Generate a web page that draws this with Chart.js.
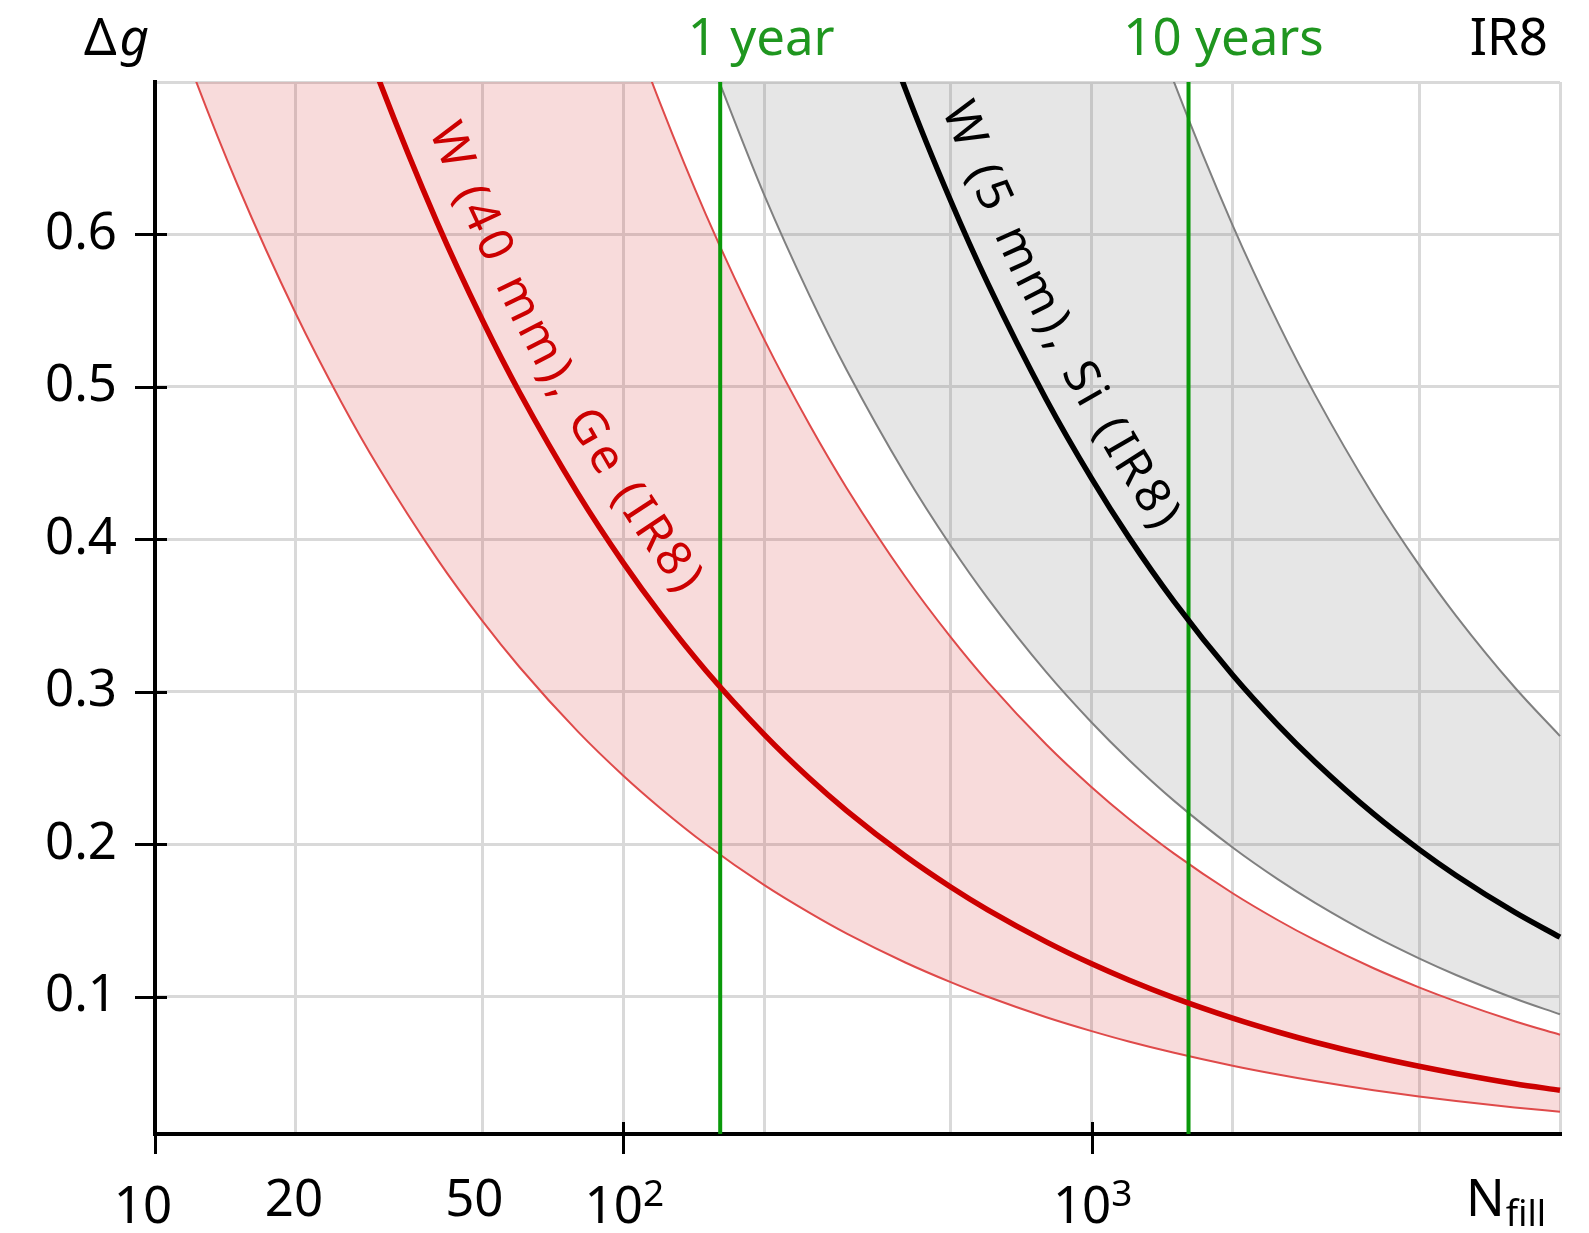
<!DOCTYPE html>
<html><head><meta charset="utf-8">
<script src="https://cdn.jsdelivr.net/npm/chart.js@4.4.1/dist/chart.umd.min.js"></script>
<style>html,body{margin:0;padding:0;background:#fff;} canvas{display:block;}</style>
</head><body>
<canvas id="c" width="1589" height="1233"></canvas>
<script>
// ---- data ----
const nRed = [10, 12, 15, 20, 25, 30, 40, 50, 60, 80, 100, 120, 150, 200, 250, 300, 400, 500, 600, 800, 1000, 1200, 1500, 2000, 2500, 3000, 4000, 5000, 6000, 8000, 10000];
const redCenter = [1.2162, 1.1102, 0.9930, 0.8600, 0.7692, 0.7022, 0.6081, 0.5439, 0.4965, 0.4300, 0.3846, 0.3511, 0.3140, 0.2720, 0.2432, 0.2220, 0.1923, 0.1720, 0.1570, 0.1360, 0.1216, 0.1110, 0.0993, 0.0860, 0.0769, 0.0702, 0.0608, 0.0544, 0.0497, 0.0430, 0.0387];
const redLower = [0.7748, 0.7073, 0.6326, 0.5478, 0.4900, 0.4473, 0.3874, 0.3465, 0.3163, 0.2739, 0.2450, 0.2237, 0.2000, 0.1732, 0.1550, 0.1414, 0.1225, 0.1096, 0.1000, 0.0866, 0.0775, 0.0707, 0.0633, 0.0548, 0.0490, 0.0447, 0.0387, 0.0346, 0.0316, 0.0274, 0.0246];
const redUpper = [2.3749, 2.1680, 1.9391, 1.6793, 1.5020, 1.3711, 1.1874, 1.0621, 0.9695, 0.8396, 0.7510, 0.6856, 0.6132, 0.5310, 0.4750, 0.4336, 0.3755, 0.3359, 0.3066, 0.2655, 0.2375, 0.2168, 0.1939, 0.1679, 0.1502, 0.1371, 0.1187, 0.1062, 0.0970, 0.0840, 0.0751];
const nGray = [150, 200, 250, 300, 400, 500, 600, 800, 1000, 1200, 1500, 2000, 2500, 3000, 4000, 5000, 6000, 8000, 10000];
const grayLower = [0.7226, 0.6258, 0.5597, 0.5109, 0.4425, 0.3958, 0.3613, 0.3129, 0.2799, 0.2555, 0.2285, 0.1979, 0.1770, 0.1616, 0.1399, 0.1252, 0.1143, 0.0989, 0.0885];
const grayUpper = [2.2128, 1.9163, 1.7140, 1.5646, 1.3550, 1.2119, 1.1064, 0.9581, 0.8570, 0.7823, 0.6997, 0.6060, 0.5420, 0.4948, 0.4285, 0.3833, 0.3499, 0.3030, 0.2710];
const nBlack = [300, 400, 500, 600, 800, 1000, 1200, 1500, 2000, 2500, 3000, 4000, 5000, 6000, 8000, 10000];
const blackCenter = [0.8031, 0.6955, 0.6221, 0.5679, 0.4918, 0.4399, 0.4015, 0.3592, 0.3110, 0.2782, 0.2540, 0.2199, 0.1967, 0.1796, 0.1555, 0.1391];
const markerN = [161, 1610];
const markerLabels = ['1 year', '10 years'];
const curveLabels = ['W (40 mm), Ge (IR8)', 'W (5 mm), Si (IR8)'];
const curveLabelStartN = [34, 425];
const yTicks = [0.1, 0.2, 0.3, 0.4, 0.5, 0.6];
const yRange = [0.01, 0.7];
const xRange = [10, 10000];
const xGridTicks = [10, 20, 50, 100, 200, 500, 1000, 2000, 5000, 10000];
const xMajorTicks = [10, 100, 1000];
const xTickLabels = ['10', '20', '50', '10^2', '10^3'];
const xTickLabelValues = [10, 20, 50, 100, 1000];
const yTitle = ['Δ', 'g'];
const xTitle = ['N', 'fill'];
const cornerLabel = 'IR8';

const FONT = '"Noto Sans", "Open Sans", sans-serif';
const CLIP = {left: 0, top: 0, right: 6, bottom: 0};

function series(label, xs, ys, color, width, extra) {
  return Object.assign({
    label: label,
    data: xs.map((n, i) => ({x: n, y: ys[i]})),
    borderColor: color, borderWidth: width,
    pointRadius: 0, pointHoverRadius: 0,
    fill: false, cubicInterpolationMode: 'monotone', clip: CLIP
  }, extra || {});
}

const datasets = [
  series(curveLabels[0], nRed, redCenter, '#cc0000', 5.5),
  series(curveLabels[1], nBlack, blackCenter, '#000000', 5.5),
  series(markerLabels[0], [markerN[0], markerN[0]], yRange, '#0a990a', 4, {cubicInterpolationMode: 'default', tension: 0}),
  series(markerLabels[1], [markerN[1], markerN[1]], yRange, '#0a990a', 4, {cubicInterpolationMode: 'default', tension: 0}),
  series('Ge band lower', nRed, redLower, '#df4a4a', 2, {fill: 5, backgroundColor: 'rgba(214,39,40,0.17)'}),
  series('Ge band upper', nRed, redUpper, '#df4a4a', 2),
  series('Si band lower', nGray, grayLower, '#808080', 2, {fill: 7, backgroundColor: 'rgba(128,128,128,0.2)'}),
  series('Si band upper', nGray, grayUpper, '#808080', 2)
];

function drawOnCurve(ctx, pts, text, startX, offset, spacing) {
  const cum = [0];
  for (let i = 1; i < pts.length; i++) cum.push(cum[i - 1] + Math.hypot(pts[i].x - pts[i - 1].x, pts[i].y - pts[i - 1].y));
  const at = (s) => {
    let i = 1;
    while (i < pts.length - 1 && cum[i] < s) i++;
    const t = (s - cum[i - 1]) / (cum[i] - cum[i - 1]);
    const p0 = pts[i - 1], p1 = pts[i];
    return {x: p0.x + (p1.x - p0.x) * t, y: p0.y + (p1.y - p0.y) * t};
  };
  const sAtX = (px) => {
    for (let i = 1; i < pts.length; i++) {
      if (pts[i].x >= px) {
        const t = (px - pts[i - 1].x) / (pts[i].x - pts[i - 1].x);
        return cum[i - 1] + t * (cum[i] - cum[i - 1]);
      }
    }
    return cum[cum.length - 1];
  };
  let s = sAtX(startX);
  for (const ch of text) {
    const w = ctx.measureText(ch).width;
    const m = s + w / 2;
    const q = at(m), qa = at(m - 12), qb = at(m + 12);
    const a = Math.atan2(qb.y - qa.y, qb.x - qa.x);
    ctx.save();
    ctx.translate(q.x, q.y);
    ctx.rotate(a);
    ctx.fillText(ch, -w / 2, -offset);
    ctx.restore();
    s += w + spacing;
  }
}

const decor = {
  id: 'decor',
  afterDraw(chart) {
    const {ctx, chartArea} = chart;
    const x = chart.scales.x, y = chart.scales.y;
    ctx.save();
    // tick marks (in-out)
    ctx.strokeStyle = '#000';
    ctx.lineWidth = 3;
    yTicks.forEach(v => {
      const py = Math.round(y.getPixelForValue(v)) + 0.5;
      ctx.beginPath(); ctx.moveTo(chartArea.left - 20, py); ctx.lineTo(chartArea.left + 12, py); ctx.stroke();
    });
    xMajorTicks.forEach(v => {
      const px = Math.round(x.getPixelForValue(v)) + 0.5;
      ctx.beginPath(); ctx.moveTo(px, chartArea.bottom - 12); ctx.lineTo(px, chartArea.bottom + 20); ctx.stroke();
    });

    // x tick labels
    ctx.fillStyle = '#000';
    ctx.textBaseline = 'alphabetic';
    const shifts = {10: -12, 20: -2, 50: -8, 100: 1, 1000: 1};
    xTickLabels.forEach((lab, i) => {
      const v = xTickLabelValues[i];
      const parts = lab.split('^');
      const base = parts[0], sup = parts[1];
      ctx.font = '51px ' + FONT;
      const wb = ctx.measureText(base).width;
      ctx.font = '37px ' + FONT;
      const ws = sup ? ctx.measureText(sup).width : 0;
      const cx = x.getPixelForValue(v) + shifts[v];
      const left = cx - (wb + ws) / 2;
      const baseY = sup || v === 10 ? 1223 : 1216;
      ctx.font = '51px ' + FONT;
      ctx.textAlign = 'left';
      ctx.fillText(base, left, baseY);
      if (sup) { ctx.font = '37px ' + FONT; ctx.fillText(sup, left + wb, 1206); }
    });
    // x title N_fill
    ctx.font = '51px ' + FONT;
    ctx.textAlign = 'left';
    const wN = ctx.measureText(xTitle[0]).width;
    ctx.fillText(xTitle[0], 1466, 1216);
    ctx.font = '36px ' + FONT;
    ctx.fillText(xTitle[1], 1466 + wN + 1, 1226);

    // y title Δg
    ctx.font = '51px ' + FONT;
    ctx.fillText(yTitle[0], 84, 55);
    const wD = ctx.measureText(yTitle[0]).width;
    ctx.font = 'italic 51px ' + FONT;
    ctx.fillText(yTitle[1], 84 + wD + 3, 55);

    // corner label
    ctx.font = '51px ' + FONT;
    ctx.textAlign = 'right';
    ctx.fillText(cornerLabel, 1548, 55);

    // marker labels
    ctx.fillStyle = '#1f961f';
    ctx.textAlign = 'center';
    const mShift = [41, 35];
    markerN.forEach((n, i) => ctx.fillText(markerLabels[i], x.getPixelForValue(n) + mShift[i], 55));

    // labels along the curves
    ctx.font = '48px ' + FONT;
    ctx.textAlign = 'left';
    const curves = [[nRed, redCenter, '#cc0000', 27, 5], [nBlack, blackCenter, '#000000', 26, 5]];
    curves.forEach((c, i) => {
      const pts = c[0].map((n, j) => ({x: x.getPixelForValue(n), y: y.getPixelForValue(c[1][j])}));
      ctx.fillStyle = c[2];
      drawOnCurve(ctx, pts, curveLabels[i], x.getPixelForValue(curveLabelStartN[i]), c[3], c[4]);
    });
    ctx.restore();
  }
};

new Chart(document.getElementById('c'), {
  type: 'line',
  data: {datasets: datasets},
  options: {
    responsive: false,
    devicePixelRatio: 1,
    animation: false,
    events: [],
    layout: {padding: {top: 82, right: 29, left: 0, bottom: 0}},
    plugins: {
      legend: {display: false},
      tooltip: {enabled: false},
      filler: {drawTime: 'beforeDatasetsDraw'}
    },
    scales: {
      x: {
        type: 'logarithmic', min: xRange[0], max: xRange[1],
        afterBuildTicks: s => { s.ticks = xGridTicks.map(v => ({value: v})); },
        afterFit: s => { s.height = 99; },
        ticks: {display: false},
        grid: {color: '#d9d9d9', lineWidth: 3, drawTicks: false},
        border: {display: true, color: '#000', width: 4}
      },
      y: {
        type: 'linear', min: yRange[0], max: yRange[1],
        afterBuildTicks: s => { s.ticks = yTicks.concat([yRange[1]]).map(v => ({value: v})); },
        afterFit: s => { s.width = 155; },
        ticks: {
          autoSkip: false,
          callback: v => yTicks.includes(v) ? v.toFixed(1) : '',
          font: {family: FONT, size: 51}, color: '#000', padding: 38
        },
        grid: {color: '#d9d9d9', lineWidth: 3, drawTicks: false},
        border: {display: true, color: '#000', width: 4}
      }
    }
  },
  plugins: [decor]
});
</script>
</body></html>
